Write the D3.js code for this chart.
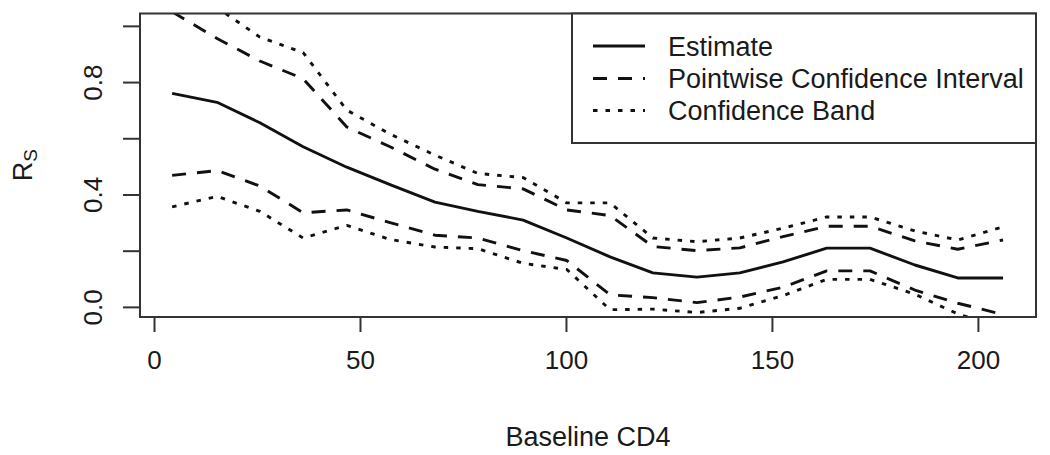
<!DOCTYPE html>
<html>
<head>
<meta charset="utf-8">
<script src="https://cdn.jsdelivr.net/npm/d3@7"></script>
<style>
  body { margin: 0; background: #fff; }
  svg text { font-family: "Liberation Sans", Arial, Helvetica, sans-serif; fill: #1a1a1a; }
</style>
</head>
<body>
<div id="chart"></div>
<script>
// Baseline CD4 grid and the curves
let cd4 = [4.4, 15.3, 25.7, 36.2, 46.8, 57.3, 68.2, 78.6, 89.6, 100.2,
           110.7, 121.1, 131.8, 142.2, 152.7, 163.3, 173.8, 184.7, 195.1, 206.1];
let estimate = [0.760, 0.728, 0.655, 0.570, 0.497, 0.435, 0.373, 0.340, 0.309, 0.245,
                0.178, 0.121, 0.106, 0.121, 0.160, 0.209, 0.209, 0.149, 0.103, 0.103];
let pw_upper = [1.05, 0.955, 0.875, 0.812, 0.64, 0.57, 0.49, 0.435, 0.42, 0.345,
                0.325, 0.215, 0.20, 0.21, 0.25, 0.287, 0.287, 0.235, 0.205, 0.238];
let pw_lower = [0.468, 0.485, 0.43, 0.335, 0.345, 0.30, 0.255, 0.245, 0.20, 0.165,
                0.043, 0.033, 0.015, 0.035, 0.07, 0.128, 0.128, 0.06, 0.013, -0.027];
let cb_upper = [1.16, 1.065, 0.96, 0.905, 0.70, 0.615, 0.54, 0.475, 0.46, 0.37,
                0.37, 0.245, 0.232, 0.245, 0.28, 0.32, 0.32, 0.27, 0.238, 0.285];
let cb_lower = [0.356, 0.393, 0.34, 0.245, 0.29, 0.24, 0.213, 0.207, 0.155, 0.133,
                -0.01, -0.008, -0.02, -0.005, 0.04, 0.098, 0.098, 0.045, -0.025, -0.075];

let x_ticks = [0, 50, 100, 150, 200];
let y_ticks = [0, 0.2, 0.4, 0.6, 0.8, 1.0];
let y_tick_labels = ["0.0", "", "0.4", "", "0.8", ""];
let legend_labels = ["Estimate", "Pointwise Confidence Interval", "Confidence Band"];

let width = 1050, height = 455;
let box = {left: 140, right: 1036, top: 13.5, bottom: 317};

let dash_solid = null, dash_dashed = "14,11", dash_dotted = "4.5,8";

let svg = d3.select("#chart")
            .append("svg")
            .attr("width", width)
            .attr("height", height);

let x = d3.scaleLinear()
          .domain([-3.4, 214.1])
          .range([box.left, box.right]);

let y = d3.scaleLinear()
          .domain([-0.036, 1.044])
          .range([box.bottom, box.top]);

svg.append("clipPath")
   .attr("id", "plot-clip")
   .append("rect")
   .attr("x", box.left)
   .attr("y", box.top)
   .attr("width", box.right - box.left)
   .attr("height", box.bottom - box.top);

let line = d3.line()
             .x(function(d) { return x(d[0]); })
             .y(function(d) { return y(d[1]); });

let series = [
  {values: cb_upper, dash: dash_dotted},
  {values: cb_lower, dash: dash_dotted},
  {values: pw_upper, dash: dash_dashed},
  {values: pw_lower, dash: dash_dashed},
  {values: estimate, dash: dash_solid}
];

let g = svg.append("g").attr("clip-path", "url(#plot-clip)");

g.selectAll("path")
 .data(series)
 .enter()
 .append("path")
 .attr("d", function(s) { return line(cd4.map(function(v, i) { return [v, s.values[i]]; })); })
 .style("fill", "none")
 .style("stroke", "#111")
 .style("stroke-width", 2.9)
 .style("stroke-linejoin", "round")
 .style("stroke-dasharray", function(s) { return s.dash; });

// plot frame
svg.append("rect")
   .attr("x", box.left)
   .attr("y", box.top)
   .attr("width", box.right - box.left)
   .attr("height", box.bottom - box.top)
   .style("fill", "none")
   .style("stroke", "#333")
   .style("stroke-width", 2);

// x axis
let x_axis = svg.append("g")
   .attr("transform", "translate(0," + box.bottom + ")")
   .call(d3.axisBottom(x).tickValues(x_ticks).tickSize(15).tickPadding(19).tickSizeOuter(0));

x_axis.select(".domain")
      .attr("d", "M" + x(x_ticks[0]) + ",0H" + x(x_ticks[x_ticks.length - 1]))
      .style("stroke", "#333").style("stroke-width", 2);
x_axis.selectAll(".tick line").style("stroke", "#333").style("stroke-width", 2);
x_axis.selectAll(".tick text")
      .style("font-size", "26px")
      .attr("fill", "#1a1a1a")
      .attr("font-family", null);

// y axis
let y_axis = svg.append("g")
   .attr("transform", "translate(" + box.left + ",0)")
   .call(d3.axisLeft(y).tickValues(y_ticks)
           .tickFormat(function(d, i) { return y_tick_labels[i]; })
           .tickSize(17).tickSizeOuter(0));

y_axis.select(".domain")
      .attr("d", "M0," + y(y_ticks[0]) + "V" + y(y_ticks[y_ticks.length - 1]))
      .style("stroke", "#333").style("stroke-width", 2);
y_axis.selectAll(".tick line").style("stroke", "#333").style("stroke-width", 2);
y_axis.selectAll(".tick text")
      .attr("x", 0)
      .attr("dy", null)
      .attr("text-anchor", "middle")
      .attr("transform", "translate(-38,0) rotate(-90)")
      .attr("fill", "#1a1a1a")
      .attr("font-family", null)
      .style("font-size", "26px");

// axis titles
svg.append("text")
   .attr("x", (box.left + box.right) / 2)
   .attr("y", 446)
   .attr("text-anchor", "middle")
   .style("font-size", "27px")
   .text("Baseline CD4");

let ylab = svg.append("text")
   .attr("transform", "translate(32," + ((box.top + box.bottom) / 2) + ") rotate(-90)")
   .attr("text-anchor", "middle")
   .style("font-size", "27px");
ylab.append("tspan").text("R");
ylab.append("tspan").attr("dy", 5).style("font-size", "19px").text("S");

// legend
let legend = svg.append("g");
let legend_top = box.top, legend_bottom = 143, legend_left = 572;

legend.append("rect")
      .attr("x", legend_left)
      .attr("y", legend_top)
      .attr("width", box.right - legend_left)
      .attr("height", legend_bottom - legend_top)
      .style("fill", "#fff")
      .style("stroke", "#333")
      .style("stroke-width", 2);

let legend_dash = [dash_solid, dash_dashed, dash_dotted];
let legend_rows = [46, 78.5, 110.5];

let items = legend.selectAll(".item")
      .data(legend_labels)
      .enter()
      .append("g")
      .attr("class", "item")
      .attr("transform", function(d, i) { return "translate(0," + legend_rows[i] + ")"; });

items.append("line")
     .attr("x1", 593).attr("x2", 645)
     .style("stroke", "#111")
     .style("stroke-width", 2.9)
     .style("stroke-dasharray", function(d, i) { return legend_dash[i]; });

items.append("text")
     .attr("x", 668)
     .attr("dy", "0.36em")
     .style("font-size", "27px")
     .text(function(d) { return d; });
</script>
</body>
</html>
